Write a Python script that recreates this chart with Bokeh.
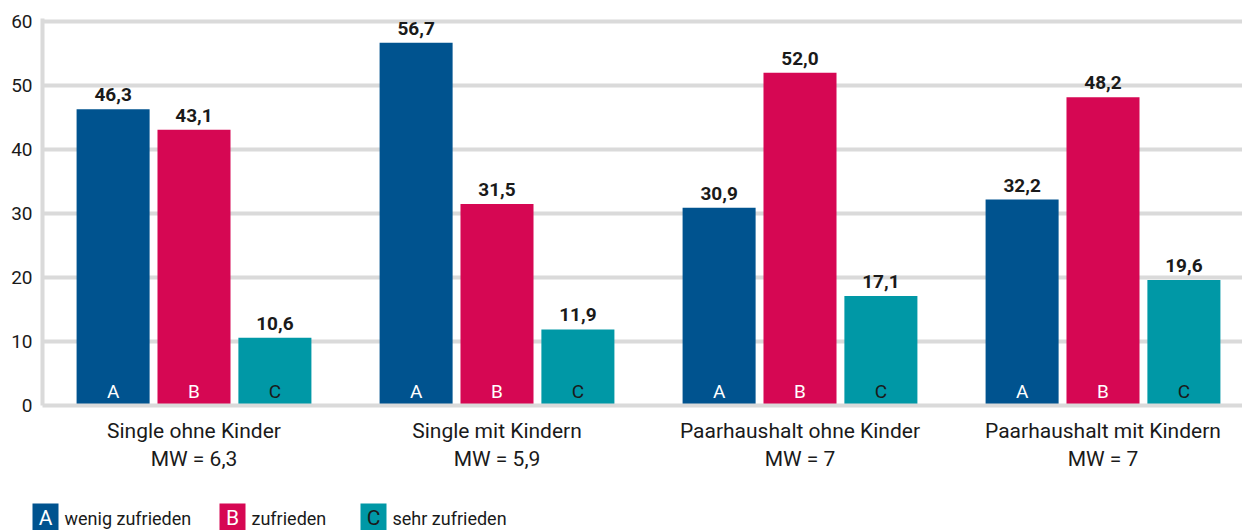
from bokeh.plotting import figure
from bokeh.models import Range1d, FixedTicker, ColumnDataSource
from bokeh.layouts import column
from bokeh.embed import file_html
from bokeh.resources import INLINE
from bokeh.core.properties import value

categories = ["Single ohne Kinder", "Single mit Kindern", "Paarhaushalt ohne Kinder", "Paarhaushalt mit Kindern"]
mw_labels = ["6,3", "5,9", "7", "7"]
wenig = [46.3, 56.7, 30.9, 32.2]
zufrieden = [43.1, 31.5, 52.0, 48.2]
sehr = [10.6, 11.9, 17.1, 19.6]
series_names = ["wenig zufrieden", "zufrieden", "sehr zufrieden"]
series_letters = ["A", "B", "C"]
colors = ["#00538F", "#D60753", "#0098A6"]
letter_colors = ["#ffffff", "#ffffff", "#1a1a1a"]
y_ticks = [0, 10, 20, 30, 40, 50, 60]

FONT = "Roboto"
TXT = "#1a1a1a"
GRID = "#dadada"

W = 1242
H_MAIN = 485
H_LEG = 45
LEFT = 42

p = figure(width=W, height=H_MAIN, output_backend="svg", toolbar_location=None,
           x_range=Range1d(0, (W - LEFT) / 303), y_range=Range1d(0, 60.5),
           min_border_left=LEFT, min_border_right=0, min_border_top=18,
           min_border_bottom=H_MAIN - 18 - 387)
p.outline_line_color = None
p.background_fill_color = "white"

offsets = [-0.267, 0.0, 0.267]
series = [wenig, zufrieden, sehr]
for k, vals in enumerate(series):
    xs = [i + 0.5 + offsets[k] for i in range(len(categories))]
    src = ColumnDataSource(dict(x=xs, top=vals,
                                lbl=[f"{v:.1f}".replace(".", ",") for v in vals],
                                letter=[series_letters[k]] * len(vals),
                                zero=[0] * len(vals)))
    p.vbar(x="x", top="top", width=0.241, bottom=0, source=src,
           fill_color=colors[k], line_color=None)
    p.text(x="x", y="top", text="lbl", source=src, text_align="center",
           text_baseline="bottom", y_offset=-8,
           text_font=value(FONT), text_font_style="bold", text_font_size="19px",
           text_color=TXT)
    p.text(x="x", y="zero", text="letter", source=src, text_align="center",
           text_baseline="bottom", y_offset=-3,
           text_font=value(FONT), text_font_size="19px",
           text_color=letter_colors[k])

# axes
p.yaxis.ticker = FixedTicker(ticks=y_ticks)
p.yaxis.axis_line_color = GRID
p.yaxis.axis_line_width = 4
p.yaxis.major_tick_line_color = None
p.yaxis.minor_tick_line_color = None
p.yaxis.major_tick_out = 0
p.yaxis.major_tick_in = 0
p.yaxis.minor_tick_out = 0
p.yaxis.major_label_text_font = FONT
p.yaxis.major_label_text_font_size = "19px"
p.yaxis.major_label_text_color = TXT
p.yaxis.major_label_standoff = 10

p.xaxis.ticker = FixedTicker(ticks=[i + 0.5 for i in range(len(categories))])
p.xaxis.major_label_overrides = {i + 0.5: f"{c}\nMW = {m}" for i, (c, m) in enumerate(zip(categories, mw_labels))}
p.xaxis.axis_line_color = GRID
p.xaxis.axis_line_width = 4
p.xaxis.major_tick_line_color = None
p.xaxis.minor_tick_line_color = None
p.xaxis.major_tick_out = 0
p.xaxis.major_tick_in = 0
p.xaxis.minor_tick_out = 0
p.xaxis.major_label_text_font = FONT
p.xaxis.major_label_text_font_size = "21px"
p.xaxis.major_label_text_color = TXT
p.xaxis.major_label_standoff = 13

p.xgrid.grid_line_color = None
p.ygrid.ticker = FixedTicker(ticks=y_ticks)
p.ygrid.grid_line_color = GRID
p.ygrid.grid_line_width = 4

# legend strip (x in page pixels, y in pixels from the strip's bottom)
leg = figure(width=W, height=H_LEG, output_backend="svg", toolbar_location=None,
             x_range=Range1d(0, W), y_range=Range1d(0, H_LEG),
             x_axis_location=None, y_axis_location=None,
             min_border_left=0, min_border_right=0,
             min_border_top=0, min_border_bottom=0)
leg.outline_line_color = None
leg.grid.visible = False
for fig in (p, leg):
    if "frame_align" in fig.properties():
        fig.frame_align = False

sq_left = [32, 219, 360]
sq_w = 26
sq_h = 27
leg_src = ColumnDataSource(dict(
    x=[s + sq_w / 2 for s in sq_left], y=[sq_h / 2] * 3,
    ty=[sq_h / 2 - 1] * 3,
    tx=[s + sq_w + 6 for s in sq_left],
    color=colors, letter=series_letters, lc=letter_colors, name=series_names))
leg.rect(x="x", y="y", width=sq_w, height=sq_h, fill_color="color", line_color=None, source=leg_src)
leg.text(x="x", y="ty", text="letter", text_color="lc", source=leg_src,
         text_align="center", text_baseline="middle",
         text_font=value(FONT), text_font_size="21px")
leg.text(x="tx", y="ty", text="name", source=leg_src, text_color=TXT,
         text_align="left", text_baseline="middle",
         text_font=value(FONT), text_font_size="18px")

layout = column(p, leg, spacing=0)
open("out.html", "w").write(file_html(layout, INLINE))
